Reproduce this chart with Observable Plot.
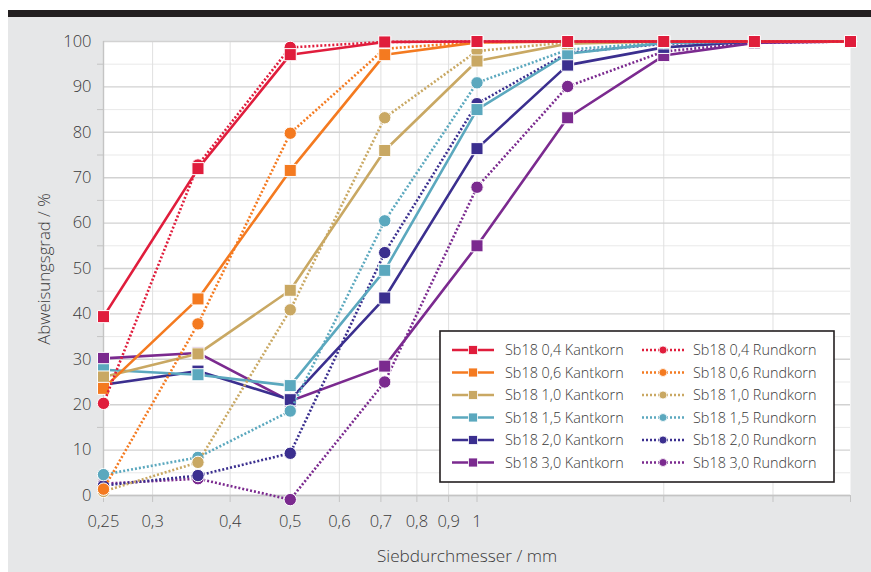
<!DOCTYPE html>
<html>
<head>
<meta charset="utf-8">
<script src="https://cdn.jsdelivr.net/npm/d3@7"></script>
<script src="https://cdn.jsdelivr.net/npm/@observablehq/plot@0.6"></script>
<style>
  html, body { margin: 0; padding: 0; background: #ffffff; }
  #wrap { position: relative; width: 871px; height: 572px; overflow: hidden; }
  #bg { position: absolute; left: 8px; top: 17px; width: 863px; height: 555px; background: #e6e7e8; }
  #bar { position: absolute; left: 8px; top: 10px; width: 863px; height: 7px; background: #231f20; }
  #chart { position: absolute; left: 0; top: 0; }
</style>
</head>
<body>
<div id="wrap">
  <div id="bg"></div>
  <div id="bar"></div>
  <div id="chart"></div>
</div>
<script>
// Sieve diameters (mm)
const sieve = [0.25, 0.355, 0.5, 0.71, 1, 1.4, 2, 2.8, 4];

// Grain sizes (series labels)
const sizes = ["0,4", "0,6", "1,0", "1,5", "2,0", "3,0"];
const colors = ["#e01d3c", "#f47a20", "#c9a863", "#5ba8be", "#3b2f8f", "#7b2a8f"];

// Kantkorn (solid lines, squares)
const kant04 = [39.4, 72.0, 97.1, 99.9, 100, 100, 100, 100, 100];
const kant06 = [23.6, 43.3, 71.6, 97.1, 99.8, 100, 100, 100, 100];
const kant10 = [26.1, 31.2, 45.2, 76.0, 95.7, 99.5, 100, 100, 100];
const kant15 = [27.7, 26.6, 24.2, 49.6, 85.0, 97.3, 99.7, 100, 100];
const kant20 = [24.4, 27.4, 21.1, 43.5, 76.4, 94.8, 98.7, 100, 100];
const kant30 = [30.2, 31.4, 20.8, 28.5, 55.0, 83.2, 96.9, 99.7, 100];

// Rundkorn (dotted lines, circles)
const rund04 = [20.3, 72.8, 98.7, 99.9, 100, 100, 100, 100, 100];
const rund06 = [1.4, 37.8, 79.8, 98.4, 99.9, 100, 100, 100, 100];
const rund10 = [0.9, 7.3, 40.9, 83.2, 97.9, 99.8, 100, 100, 100];
const rund15 = [4.6, 8.4, 18.6, 60.5, 90.9, 98.2, 99.8, 100, 100];
const rund20 = [2.2, 4.4, 9.3, 53.5, 86.3, 97.5, 99.5, 100, 100];
const rund30 = [2.6, 3.7, -0.9, 25.0, 67.9, 90.1, 97.8, 99.7, 100];

// Axis ticks
const xTicks = [0.25, 0.3, 0.4, 0.5, 0.6, 0.7, 0.8, 0.9, 1, 2, 3, 4];
const xGrid = [0.3, 0.4, 0.5, 0.6, 0.7, 0.8, 0.9, 1, 2, 3];
const yMajor = [0, 10, 20, 30, 40, 50, 60, 70, 80, 90, 100];
const yMinor = [5, 15, 25, 35, 45, 55, 65, 75, 85, 95];

const kant = [kant04, kant06, kant10, kant15, kant20, kant30];
const rund = [rund04, rund06, rund10, rund15, rund20, rund30];

const toRows = (vals) => sieve.map((x, i) => ({x, y: vals[i]}));

const seriesMarks = [];
// draw order: 3,0 first ... 0,4 last (top)
for (let k = sizes.length - 1; k >= 0; k--) {
  const c = colors[k];
  const r = toRows(rund[k]);
  const q = toRows(kant[k]);
  seriesMarks.push(
    Plot.line(r, {x: "x", y: "y", stroke: c, strokeWidth: 2.6, strokeDasharray: "2,2", strokeLinecap: "butt"}),
    Plot.dot(r, {x: "x", y: "y", r: 6.2, fill: c, stroke: "white", strokeWidth: 1}),
    Plot.line(q, {x: "x", y: "y", stroke: c, strokeWidth: 2.6}),
    Plot.dot(q, {x: "x", y: "y", symbol: "square", r: 6.8, fill: c, stroke: "white", strokeWidth: 1})
  );
}

const fmt = d => d <= 1 ? String(d).replace(".", ",") : "";
const font = "'Open Sans', Lato, sans-serif";

const chart = Plot.plot({
  width: 871,
  height: 572,
  marginTop: 41,
  marginRight: 21,
  marginBottom: 77,
  marginLeft: 103,
  style: {fontFamily: font, fontSize: "16.5px", fontWeight: 300, color: "#3a3a3a", background: "transparent", overflow: "visible"},
  x: {type: "log", domain: [0.25, 4]},
  y: {domain: [0, 100]},
  marks: [
    Plot.frame({fill: "white", stroke: null}),
    Plot.gridY(yMinor, {stroke: "#e9e9e9", strokeOpacity: 1, strokeWidth: 1}),
    Plot.gridX(xGrid, {stroke: "#e0e0e0", strokeOpacity: 1, strokeWidth: 1}),
    Plot.gridY(yMajor, {stroke: "#d2d2d2", strokeOpacity: 1, strokeWidth: 1.4}),
    Plot.ruleX([0.25], {stroke: "#c4c4c4", strokeWidth: 1.4}),
    Plot.ruleY([0], {stroke: "#c4c4c4", strokeWidth: 1.6}),
    Plot.axisX({ticks: xTicks, tickFormat: fmt, tickSize: 7, tickPadding: 13, stroke: "#c4c4c4", fill: "#3a3a3a", label: null}),
    Plot.axisY({ticks: yMajor, tickSize: 0, tickPadding: 12, fill: "#3a3a3a", label: null}),
    Plot.axisY({ticks: yMinor, tickSize: 6, tickFormat: () => "", stroke: "#c4c4c4", label: null}),
    ...seriesMarks
  ]
});

document.getElementById("chart").appendChild(chart);

const svg = d3.select(chart);

// axis titles
svg.append("text")
  .attr("x", 467).attr("y", 562)
  .attr("text-anchor", "middle")
  .attr("font-family", font).attr("font-size", 17.2).attr("font-weight", 300)
  .attr("fill", "#3a3a3a")
  .text("Siebdurchmesser / mm");

svg.append("text")
  .attr("transform", "translate(50,269) rotate(-90)")
  .attr("text-anchor", "middle")
  .attr("font-family", font).attr("font-size", 16.8).attr("font-weight", 300)
  .attr("fill", "#3a3a3a")
  .text("Abweisungsgrad / %");

// legend
const lg = svg.append("g").attr("text-anchor", "start");
lg.append("rect")
  .attr("x", 440).attr("y", 331).attr("width", 394).attr("height", 151)
  .attr("fill", "white").attr("stroke", "#231f20").attr("stroke-width", 1.6);

sizes.forEach((s, i) => {
  const y = 350 + i * 22.5;
  const c = colors[i];
  lg.append("line").attr("x1", 452).attr("x2", 494).attr("y1", y).attr("y2", y)
    .attr("stroke", c).attr("stroke-width", 2.6);
  lg.append("rect").attr("x", 468.5).attr("y", y - 4.5).attr("width", 9).attr("height", 9)
    .attr("fill", c).attr("stroke", "white").attr("stroke-width", 0.8);
  lg.append("text").attr("x", 505).attr("y", y).attr("dy", "0.36em")
    .attr("text-anchor", "start")
    .attr("font-family", font).attr("font-size", 14.4).attr("font-weight", 300)
    .attr("fill", "#3a3a3a").text(`Sb18 ${s} Kantkorn`);

  lg.append("line").attr("x1", 642).attr("x2", 684).attr("y1", y).attr("y2", y)
    .attr("stroke", c).attr("stroke-width", 2.6).attr("stroke-dasharray", "2,2")
    .attr("stroke-linecap", "butt");
  lg.append("circle").attr("cx", 663).attr("cy", y).attr("r", 4)
    .attr("fill", c).attr("stroke", "white").attr("stroke-width", 0.8);
  lg.append("text").attr("x", 693).attr("y", y).attr("dy", "0.36em")
    .attr("text-anchor", "start")
    .attr("font-family", font).attr("font-size", 14.4).attr("font-weight", 300)
    .attr("fill", "#3a3a3a").text(`Sb18 ${s} Rundkorn`);
});
</script>
</body>
</html>
